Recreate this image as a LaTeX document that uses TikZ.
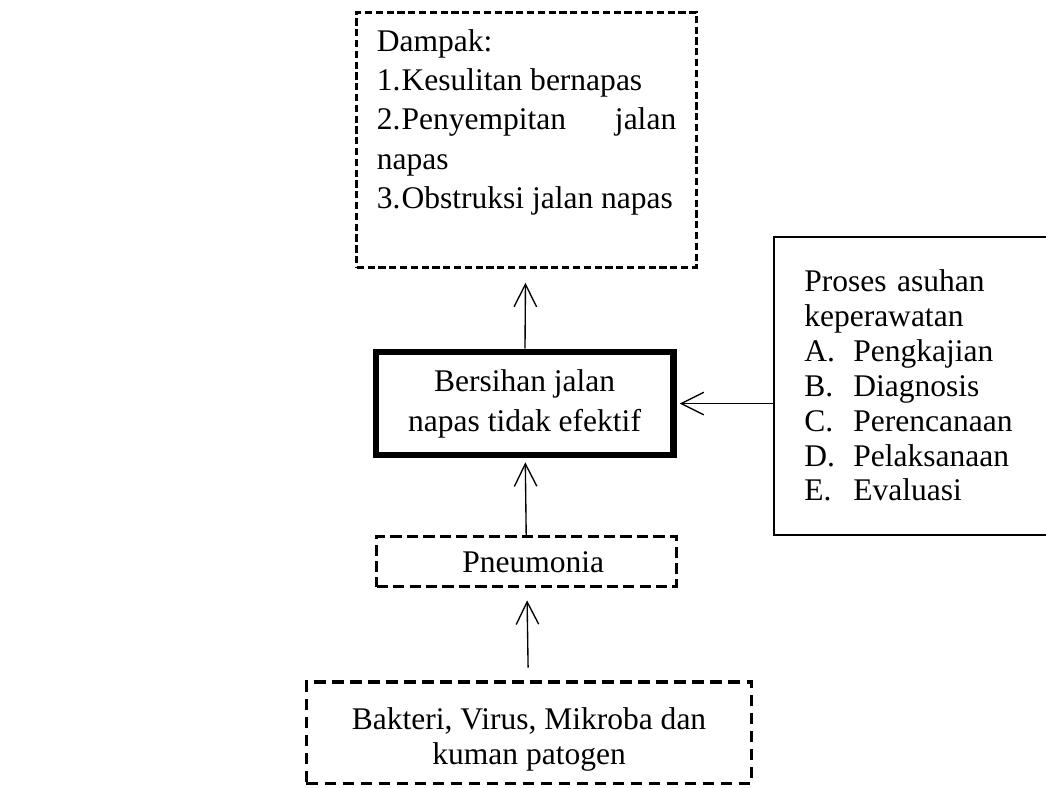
\documentclass[tikz,border=0pt]{standalone}
\usepackage{fontspec}
\setmainfont{Liberation Serif}
\usetikzlibrary{arrows.meta}

\begin{document}
\begin{tikzpicture}[
    font=\fontsize{14}{15.5}\selectfont,
    box/.style={draw, inner sep=0pt},
    flow/.style={-{Straight Barb[length=10pt,width=10pt]}, line width=0.6pt}
  ]
    \useasboundingbox (0,0) rectangle (16.33,12.29);
    % boxes
    \node[box, line width=1.4pt, dash pattern=on 3.2pt off 1.6pt, minimum width=5.3cm, minimum height=3.98cm] (dampak) at (8.22,10.11)
      {\parbox[c][98pt][t]{133pt}{\fontsize{14}{17.5}\selectfont
        Dampak:\\
        \makebox[11pt][l]{1.}Kesulitan bernapas\\
        \makebox[11pt][l]{2.}Penyempitan\hfill jalan\\
        napas\\
        \makebox[11pt][l]{3.}Obstruksi jalan napas}};
    \node[box, line width=3pt, minimum width=4.64cm, minimum height=1.61cm, align=center, font=\fontsize{14}{17.8}\selectfont] (bersihan) at (8.19,5.99)
      {Bersihan jalan\\napas tidak efektif};
    \node[box, line width=1.3pt, dash pattern=on 5pt off 2.3pt, minimum width=4.68cm, minimum height=0.78cm] (pneumonia) at (8.22,3.52)
      {\hspace{6pt}Pneumonia};
    \node[box, line width=1.5pt, dash pattern=on 5pt off 3pt, minimum width=6.95cm, minimum height=1.58cm, align=center] (bakteri) at (8.26,0.85)
      {\rule{0pt}{16pt}Bakteri, Virus, Mikroba dan\\kuman patogen};
    \node[box, line width=0.9pt, anchor=west, inner xsep=0.47cm, text width=3.7cm, minimum height=4.65cm, align=left] (proses) at (12.07,6.27)
      {Proses asuhan\\keperawatan\\
       \makebox[21.8pt][l]{A.}Pengkajian\\
       \makebox[21.8pt][l]{B.}Diagnosis\\
       \makebox[21.8pt][l]{C.}Perencanaan\\
       \makebox[21.8pt][l]{D.}Pelaksanaan\\
       \makebox[21.8pt][l]{E.}Evaluasi};
    % arrows
    \draw[flow, shorten <=0.2cm, shorten >=0.19cm] (bakteri) -- (pneumonia);
    \draw[flow, shorten >=0.06cm] (pneumonia) -- (bersihan);
    \draw[flow, shorten >=0.22cm] (bersihan) -- (dampak);
    \draw[flow, shorten >=0.05cm] (proses.west |- bersihan) -- (bersihan);
\end{tikzpicture}
\end{document}
